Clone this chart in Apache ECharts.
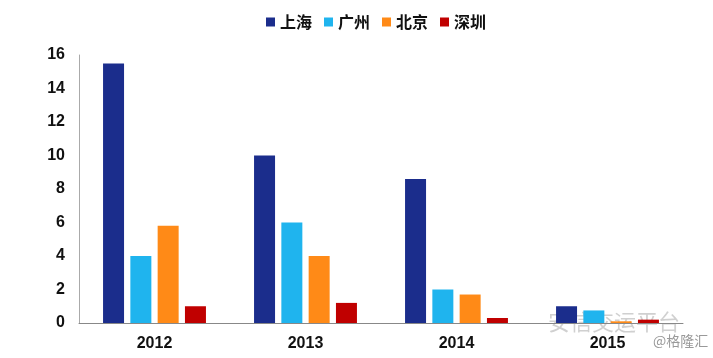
<!DOCTYPE html>
<html><head><meta charset="utf-8">
<script src="https://cdn.jsdelivr.net/npm/echarts@6/dist/echarts.min.js"></script>
<style>html,body{margin:0;padding:0;background:#fff}#c{width:713px;height:358px}</style>
</head><body><div id="c"></div>
<script>
const categories = ['2012', '2013', '2014', '2015'];
const seriesNames = ['上海', '广州', '北京', '深圳'];
const shanghai = [15.5, 10.0, 8.6, 1.0];
const guangzhou = [4.0, 6.0, 2.0, 0.75];
const beijing = [5.8, 4.0, 1.7, 0.1];
const shenzhen = [1.0, 1.2, 0.3, 0.2];
const yTicks = [0, 2, 4, 6, 8, 10, 12, 14, 16];

const colors = ['#1B2D8C', '#1FB4EE', '#FF8A17', '#C00000'];
const values = [shanghai, guangzhou, beijing, shenzhen];

const chart = echarts.init(document.getElementById('c'));
chart.setOption({
  animation: false,
  color: colors,
  legend: {
    top: 9, left: 261,
    itemWidth: 9, itemHeight: 9, itemGap: 12,
    icon: 'rect',
    textStyle: {fontFamily: 'Noto Sans CJK SC', fontWeight: 'bold', fontSize: 16, color: '#111'},
    data: seriesNames
  },
  grid: {left: 79, right: 30, top: 55, bottom: 35},
  xAxis: {
    type: 'category', data: categories,
    axisLine: {lineStyle: {color: '#888', width: 1}},
    axisTick: {show: false},
    axisLabel: {fontFamily: 'Liberation Sans', fontWeight: 'bold', fontSize: 16, color: '#111', margin: 13}
  },
  yAxis: {
    type: 'value', min: yTicks[0], max: yTicks[yTicks.length - 1], interval: 2,
    axisLine: {show: true, lineStyle: {color: '#aaa', width: 1}},
    axisTick: {show: false},
    splitLine: {show: false},
    axisLabel: {fontFamily: 'Liberation Sans', fontWeight: 'bold', fontSize: 16, color: '#111', margin: 14}
  },
  series: seriesNames.map((n, i) => ({
    name: n, type: 'bar', data: values[i],
    barWidth: 21, barGap: '30%'
  })),
  graphic: [
    {type: 'text', left: 548, top: 311, style: {text: '安信交运平台', font: '22px "Noto Sans CJK SC"', fill: 'rgba(150,150,150,0.45)'}},
    {type: 'text', left: 653, top: 334, style: {text: '@格隆汇', font: '14px "Noto Sans CJK SC"', fill: '#999'}}
  ]
});
</script>
</body></html>
